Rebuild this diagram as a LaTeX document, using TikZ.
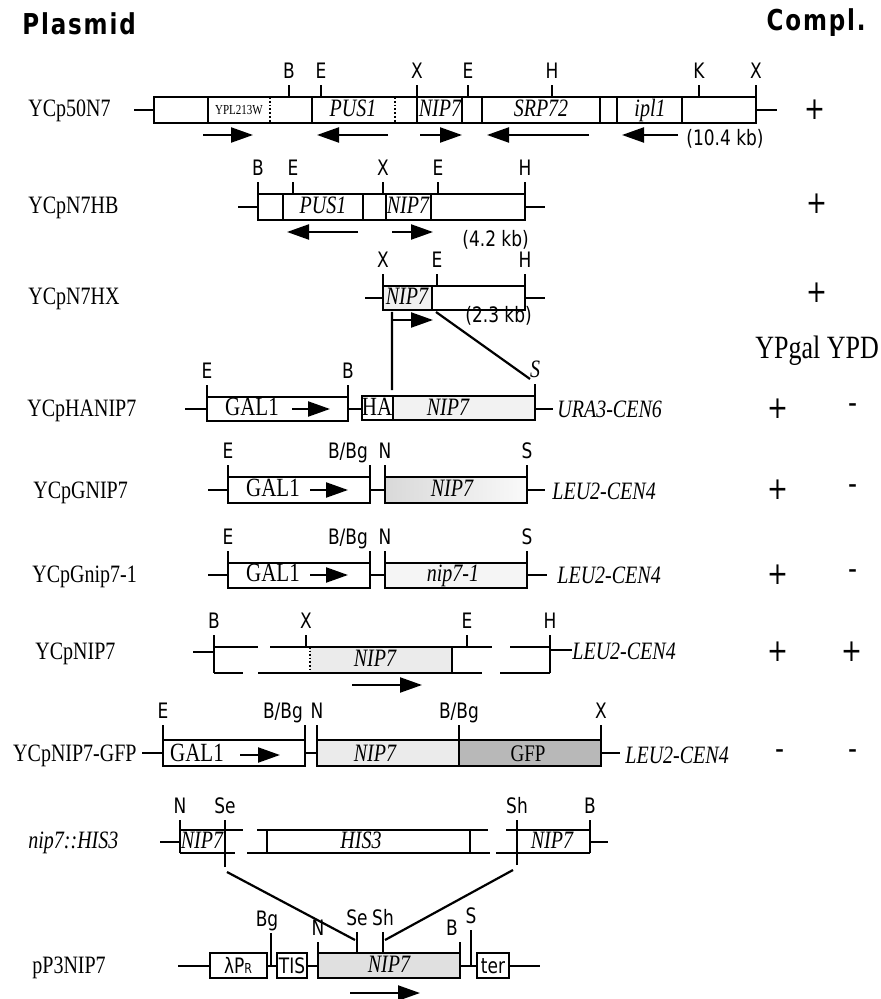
\documentclass[tikz,border=0pt]{standalone}
\usepackage{fontspec}
\setmainfont{Liberation Serif}
\newfontfamily\sitefont{DejaVu Sans}
\newfontfamily\hdrfont[LetterSpace=8]{DejaVu Sans}
\usetikzlibrary{arrows.meta}
\tikzset{
  mapbox/.style={line width=1.1pt},
  cutline/.style={line width=0.9pt},
  site/.style={font=\sitefont\fontsize{8.5}{10}\selectfont, anchor=south, inner sep=0.6pt, text height=1.7ex, text depth=0.3ex},
  gene/.style={font=\fontsize{10}{12}\selectfont\itshape, inner sep=0pt, text height=1.5ex, text depth=0.3ex},
  plain/.style={font=\fontsize{10.5}{12}\selectfont, inner sep=0pt, text height=1.5ex, text depth=0.3ex},
  boxtext/.style={font=\sitefont\fontsize{8.5}{10}\selectfont, inner sep=0pt, text height=1.6ex, text depth=0.3ex},
  plasmid/.style={font=\fontsize{10}{12}\selectfont, anchor=base west, inner sep=0pt},
  marker/.style={font=\fontsize{10}{12}\selectfont\itshape, anchor=west, inner sep=0pt},
  size/.style={font=\sitefont\fontsize{8.5}{10}\selectfont, anchor=west, inner sep=0pt},
  sign/.style={font=\sitefont\fontsize{12.5}{14}\selectfont, inner sep=0pt},
  header/.style={font=\hdrfont\bfseries\fontsize{11.5}{13}\selectfont, anchor=base west, inner sep=0pt},
  orient/.style={line width=1.1pt, -{Triangle[length=11pt,width=7.5pt]}},
}

\begin{document}
\begin{tikzpicture}[x=0.5pt, y=-0.5pt, every node/.append style={yscale=1.25}]
\useasboundingbox (0,0) rectangle (881,999);

\node[header] (hplasmid) at (22,35) {Plasmid};
\node[header, anchor=base east] (hcompl) at (866,31) {Compl.};
\node[font=\fontsize{13}{15}\selectfont, anchor=base west, inner sep=0pt] (hmedia) at (755,358) {YPgal YPD};

% YCp50N7
\node[plasmid] (ycp50) at (28,117) {YCp50N7};
\draw[mapbox] (134,110) -- (154,110) (756,110) -- (777,110);
\draw[mapbox] (154,97) rectangle (756,123);
\foreach \x in {208,312,417,462,482,600,617,682} \draw[mapbox] (\x,97) -- (\x,123);
\foreach \x in {270,395} \draw[line width=0.9pt, densely dotted] (\x,97) -- (\x,123);
\foreach \x/\t [count=\i] in {289/B,321/E,417/X,468/E,552/H,699/K,756/X}
  \draw[cutline] (\x,97) -- (\x,85) node[site] (a\i) {\t};
\node[font=\fontsize{5.5}{6}\selectfont, inner sep=0pt] (ypl) at (239,110) {YPL213W};
\node[gene] (pus1a) at (353,110) {PUS1};
\node[gene] (nip7a) at (440,110) {NIP7};
\node[gene] (srp72) at (541,110) {SRP72};
\node[gene] (ipl1) at (650,110) {ipl1};
\draw[orient] (203,135) -- (253,135);
\draw[orient] (388,135) -- (317,135);
\draw[orient] (420,135) -- (462,135);
\draw[orient] (589,135) -- (487,135);
\draw[orient] (678,135) -- (622,135);
\node[size] (kb1) at (686,139) {(10.4 kb)};
\node[sign] (ca) at (815,110) {+};

% YCpN7HB
\node[plasmid] (ycpn7hb) at (28,214) {YCpN7HB};
\draw[mapbox] (238,207) -- (258,207) (525,207) -- (545,207);
\draw[mapbox] (258,194) rectangle (525,220);
\foreach \x in {283,363,386,431} \draw[mapbox] (\x,194) -- (\x,220);
\foreach \x/\t [count=\i] in {258/B,293/E,383/X,438/E,525/H}
  \draw[cutline] (\x,194) -- (\x,182) node[site] (b\i) {\t};
\node[gene] (pus1b) at (323,207) {PUS1};
\node[gene] (nip7b) at (408,207) {NIP7};
\draw[orient] (358,232) -- (287,232);
\draw[orient] (392,232) -- (433,232);
\node[size] (kb2) at (462,240) {(4.2 kb)};
\node[sign] (cb) at (817,204) {+};

% YCpN7HX
\node[plasmid] (ycpn7hx) at (28,305) {YCpN7HX};
\fill[black!6] (383,286) rectangle (432,310);
\draw[mapbox] (365,298) -- (383,298) (525,298) -- (545,298);
\draw[mapbox] (383,286) rectangle (525,310);
\draw[mapbox] (432,286) -- (432,310);
\foreach \x/\t [count=\i] in {383/X,437/E,525/H}
  \draw[cutline] (\x,286) -- (\x,274) node[site] (h\i) {\t};
\node[gene] (nip7c) at (407,298) {NIP7};
\draw[orient] (393,320) -- (433,320);
\node[size] (kb3) at (465,316) {(2.3 kb)};
\node[sign] (cc) at (817,293) {+};
\coordinate (hx1) at (392,312);
\coordinate (hx2) at (436,312);

% YCpHANIP7
\node[plasmid] (ycphanip7) at (27,416) {YCpHANIP7};
\draw[mapbox] (185,409) -- (207,409) (348,409) -- (362,409) (535,409) -- (553,409);
\draw[mapbox] (207,397) rectangle (348,421);
\fill[black!5] (393,396) rectangle (535,420);
\draw[mapbox] (362,396) rectangle (535,420);
\draw[mapbox] (393,396) -- (393,420);
\foreach \x/\t [count=\i] in {207/E,348/B}
  \draw[cutline] (\x,397) -- (\x,385) node[site] (d\i) {\t};
\draw[cutline] (535,396) -- (535,384) node[site, font=\fontsize{10}{12}\selectfont\itshape] (d3) {S};
\node[plain] (gal4) at (252,409) {GAL1};
\draw[orient] (292,409) -- (330,409);
\node[plain] (ha) at (377,409) {HA};
\node[gene] (nip7d) at (448,409) {NIP7};
\node[marker] (ura) at (557,409) {URA3-CEN6};
\node[sign] (gd) at (778,409) {+};
\node[sign] (yd) at (853,409) {-};
\coordinate (ha1) at (392,390);
\coordinate (ha2) at (530,379);
\draw[line width=1.1pt] (hx1) -- (ha1) (hx2) -- (ha2);

% YCpGNIP7
\node[plasmid] (ycpgnip7) at (33,498) {YCpGNIP7};
\draw[mapbox] (208,490) -- (228,490) (370,490) -- (385,490) (527,490) -- (545,490);
\draw[mapbox] (228,477) rectangle (370,503);
\shade[left color=black!15, right color=black!2] (385,477) rectangle (527,503);
\draw[mapbox] (385,477) rectangle (527,503);
\draw[cutline] (228,477) -- (228,465) node[site] (e1) {E};
\draw[cutline] (370,477) -- (370,465) node[site, anchor=south east] (e2) {B/Bg};
\draw[cutline] (385,477) -- (385,465) node[site] (e3) {N};
\draw[cutline] (527,477) -- (527,465) node[site] (e4) {S};
\node[plain] (gal5) at (273,490) {GAL1};
\draw[orient] (310,490) -- (348,490);
\node[gene] (nip7e) at (452,490) {NIP7};
\node[marker] (leu5) at (552,491) {LEU2-CEN4};
\node[sign] (ge) at (778,490) {+};
\node[sign] (ye) at (853,490) {-};

% YCpGnip7-1
\node[plasmid] (ycpgnip71) at (32,582) {YCpGnip7-1};
\draw[mapbox] (208,575) -- (228,575) (370,575) -- (385,575) (527,575) -- (547,575);
\draw[mapbox] (228,563) rectangle (370,588);
\fill[black!4] (385,563) rectangle (527,588);
\draw[mapbox] (385,563) rectangle (527,588);
\draw[cutline] (228,563) -- (228,551) node[site] (f1) {E};
\draw[cutline] (370,563) -- (370,551) node[site, anchor=south east] (f2) {B/Bg};
\draw[cutline] (385,563) -- (385,551) node[site] (f3) {N};
\draw[cutline] (527,563) -- (527,551) node[site] (f4) {S};
\node[plain] (gal6) at (273,575) {GAL1};
\draw[orient] (310,575) -- (348,575);
\node[gene] (nip71) at (453,575) {nip7-1};
\node[marker] (leu6) at (557,575) {LEU2-CEN4};
\node[sign] (gf) at (778,575) {+};
\node[sign] (yf) at (853,575) {-};

% YCpNIP7
\node[plasmid] (ycpnip7) at (35,659) {YCpNIP7};
\fill[black!8] (310,647) rectangle (452,673);
\draw[mapbox] (193,652) -- (214,652) (550,650) -- (572,650);
\draw[mapbox] (214,647) -- (214,673) (550,647) -- (550,673) (452,647) -- (452,673);
\draw[mapbox] (214,647) -- (258,647) (270,647) -- (492,647) (510,647) -- (550,647);
\draw[mapbox] (214,673) -- (243,673) (258,673) -- (482,673) (500,673) -- (550,673);
\draw[line width=0.8pt, densely dotted] (310,647) -- (310,673);
\foreach \x/\t [count=\i] in {214/B,306/X,467/E,550/H}
  \draw[cutline] (\x,647) -- (\x,635) node[site] (g\i) {\t};
\node[gene] (nip7g) at (375,660) {NIP7};
\draw[orient] (352,685) -- (422,685);
\node[marker] (leu7) at (572,651) {LEU2-CEN4};
\node[sign] (gg) at (778,652) {+};
\node[sign] (yg) at (852,652) {+};

% YCpNIP7-GFP
\node[plasmid, anchor=base east] (ycpgfp) at (137,761) {YCpNIP7-GFP};
\draw[mapbox] (142,753) -- (163,753) (305,753) -- (317,753) (601,753) -- (620,753);
\draw[mapbox] (163,740) rectangle (305,766);
\fill[black!8] (317,740) rectangle (459,766);
\fill[black!28] (459,740) rectangle (601,766);
\draw[mapbox] (317,740) rectangle (601,766);
\draw[mapbox] (459,740) -- (459,766);
\draw[cutline] (163,740) -- (163,725) node[site] (i1) {E};
\draw[cutline] (305,740) -- (305,725) node[site, anchor=south east] (i2) {B/Bg};
\draw[cutline] (317,740) -- (317,725) node[site] (i3) {N};
\draw[cutline] (459,740) -- (459,725) node[site] (i4) {B/Bg};
\draw[cutline] (601,740) -- (601,725) node[site] (i5) {X};
\node[plain] (gal8) at (197,755) {GAL1};
\draw[orient] (240,755) -- (280,755);
\node[gene] (nip7i) at (375,755) {NIP7};
\node[plain, font=\fontsize{9.5}{11}\selectfont] (gfp) at (528,755) {GFP};
\node[marker] (leu8) at (625,755) {LEU2-CEN4};
\node[sign] (gi) at (780,755) {-};
\node[sign] (yi) at (853,755) {-};

% nip7::HIS3
\node[plasmid, font=\fontsize{10}{12}\selectfont\itshape] (niphis) at (28,848) {nip7::HIS3};
\draw[mapbox] (160,842) -- (180,842) (590,842) -- (608,842);
\draw[mapbox] (180,830) -- (243,830) (257,830) -- (488,830) (506,830) -- (590,830);
\draw[mapbox] (180,853) -- (235,853) (247,853) -- (490,853) (496,853) -- (590,853);
\draw[mapbox] (267,830) -- (267,853) (470,830) -- (470,853);
\draw[mapbox] (180,853) -- (180,820) node[site] (k1) {N};
\draw[cutline] (225,867) -- (225,820) node[site] (k2) {Se};
\draw[cutline] (517,865) -- (517,820) node[site] (k3) {Sh};
\draw[mapbox] (590,853) -- (590,820) node[site] (k4) {B};
\node[gene] (nip7k) at (202,842) {NIP7};
\node[gene] (his3) at (361,842) {HIS3};
\node[gene] (nip7l) at (552,842) {NIP7};
\coordinate (se1) at (227,872);
\coordinate (sh1) at (513,870);

% pP3NIP7
\node[plasmid] (pp3nip7) at (32,973) {pP3NIP7};
\draw[mapbox] (178,966) -- (210,966) (267,966) -- (277,966) (307,966) -- (318,966) (460,966) -- (477,966) (509,966) -- (540,966);
\draw[mapbox] (210,953) rectangle (267,978);
\draw[mapbox] (277,953) rectangle (307,978);
\fill[black!12] (318,953) rectangle (460,978);
\draw[mapbox] (318,953) rectangle (460,978);
\draw[mapbox] (477,953) rectangle (509,978);
\draw[cutline] (271,966) -- (271,933) node[site, xshift=-2pt] (m1) {Bg};
\draw[cutline] (318,953) -- (318,942) node[site] (m2) {N};
\draw[cutline] (357,953) -- (357,932) node[site] (m3) {Se};
\draw[cutline] (383,953) -- (383,932) node[site] (m4) {Sh};
\draw[cutline] (460,953) -- (460,942) node[site, anchor=south east] (m5) {B};
\draw[cutline] (471,966) -- (471,930) node[site] (m6) {S};
\coordinate (se2) at (355,940);
\coordinate (sh2) at (385,940);
\draw[line width=1.1pt] (se1) -- (se2) (sh1) -- (sh2);
\node[boxtext] (lpr) at (238,966) {λP{\fontsize{5.5}{6}\selectfont R}};
\node[boxtext] (tis) at (292,966) {TIS};
\node[gene] (nip7m) at (389,966) {NIP7};
\node[boxtext] (ter) at (493,966) {ter};
\draw[orient] (350,993) -- (420,993);
\end{tikzpicture}
\end{document}
